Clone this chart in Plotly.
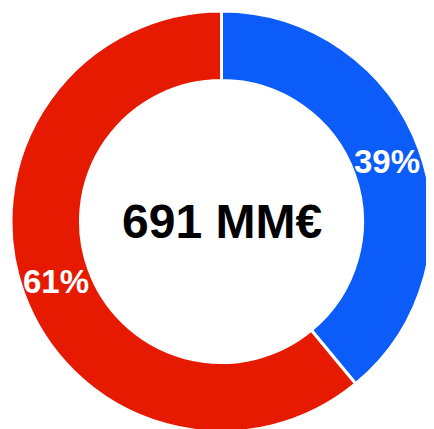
import math
import plotly.graph_objects as go

labels = ["A", "B"]
values = [39, 61]
colors = ["#0b5cf8", "#e61a00"]
center_text = "691 MM€"

W, H = 426, 429
ML, MT, MR, MB = 3, 3, 2, 5
HOLE = 0.67

fig = go.Figure(go.Pie(
    labels=labels,
    values=values,
    hole=HOLE,
    sort=False,
    direction="clockwise",
    rotation=0,
    marker=dict(colors=colors, line=dict(color="white", width=3)),
    textinfo="none",
    showlegend=False,
    hoverinfo="skip",
))

pw, ph = W - ML - MR, H - MT - MB
R = min(pw, ph) / 2
rl = R * (1 + HOLE) / 2
total = sum(values)
annots = []
cum = 0
for v in values:
    th = 2 * math.pi * (cum + v / 2) / total
    cum += v
    annots.append(dict(
        text="<b>%d%%</b>" % round(100 * v / total),
        x=0.5 + rl * math.sin(th) / pw, y=0.5 + rl * math.cos(th) / ph,
        xref="paper", yref="paper", showarrow=False,
        xanchor="center", yanchor="middle",
        font=dict(family="Liberation Sans, Arial", size=33, color="white"),
    ))
annots.append(dict(
    text="<b>" + center_text + "</b>",
    x=0.5, y=0.5, xref="paper", yref="paper",
    showarrow=False, xanchor="center", yanchor="middle",
    font=dict(family="Liberation Sans, Arial", size=48, color="black"),
))

fig.update_layout(
    width=W, height=H,
    margin=dict(l=ML, r=MR, t=MT, b=MB),
    paper_bgcolor="white",
    plot_bgcolor="white",
    annotations=annots,
)

fig.write_html("out.html")
